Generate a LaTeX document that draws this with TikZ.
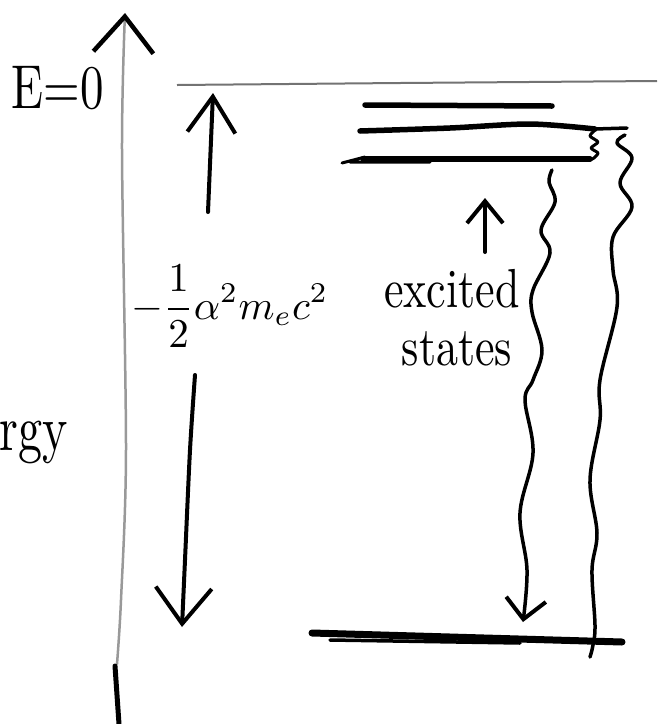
\documentclass[tikz,border=0pt]{standalone}
\usetikzlibrary{arrows.meta}
\tikzset{
  pen/.style={draw=black, line width=4pt, line cap=round, line join=round},
  pencil/.style={draw=black!40, line width=2.5pt, line cap=round, line join=round},
  level/.style={draw=black, line width=5.5pt, line cap=round},
  wiggle/.style={draw=black, line width=3.5pt, line cap=round, line join=round},
  hand/.style={inner sep=0pt, outer sep=0pt},
}
\begin{document}
\begin{tikzpicture}[x=1pt, y=-1pt]
\useasboundingbox (0,0) rectangle (657,724);
\fill[white] (0,0) rectangle (657,724);
\begin{scope}
\clip (0,0) rectangle (657,724);

% energy axis
\coordinate (axbot) at (117,664);
\coordinate (axtop) at (125,13);
\draw[pencil, -{Straight Barb[length=36pt, width=60pt, line width=4.5pt, black]}]
  plot[smooth, tension=0.5] coordinates {(117,664) (121,600) (126,450) (122,150) (125,13)};
\draw[pen, line width=5pt] (115,666) -- (119,724);

% E = 0 line
\coordinate (ezl) at (177,85);
\coordinate (ezr) at (657,81);
\draw[draw=black!55, line width=2pt] (ezl) -- (400,83) -- (ezr);

% texts
\node[hand, xscale=4.7, yscale=6.2] (ezero) at (58,88) {E=0};
\node[hand, anchor=base east, xscale=4.8, yscale=6.5] (energy) at (68,450) {Energy};
\node[hand, scale=4.1] (bind) at (230,306) {$\displaystyle -\frac{1}{2}\alpha^{2}m_{e}c^{2}$};
\node[hand, anchor=base, xscale=4.4, yscale=5.5] (exc) at (452,307) {excited};
\node[hand, anchor=base, xscale=4.4, yscale=5.5] (sts) at (457,365) {states};

% binding energy arrows
\coordinate (upfrom) at (208,212);
\coordinate (upto) at (213,93);
\draw[pen, -{Straight Barb[length=36pt, width=48pt, line width=4pt]}] (upfrom) -- (upto);
\draw[pen, -{Straight Barb[length=36pt, width=56pt, line width=4pt]}]
  plot[smooth, tension=0.5] coordinates {(195,375) (190,450) (185,560) (182,627)};

% excited levels
\coordinate (l1a) at (365,105);
\coordinate (l1b) at (552,106);
\draw[level] (l1a) -- (l1b);
\draw[level] plot[smooth, tension=0.5] coordinates {(360,131) (450,128) (530,124) (595,129)};
\draw[wiggle] (595,129) -- (627,128);
\draw[level] (363,159) -- (590,159);
\draw[wiggle, line width=3pt] (342,163) -- (365,157) (350,162) -- (430,162);
\draw[wiggle, line width=3pt] plot[smooth, tension=0.4] coordinates
  {(595,130) (590,136) (598,142) (591,148) (598,153) (594,158) (590,160)};

% small arrow to excited states
\coordinate (sfrom) at (485,252);
\coordinate (sto) at (485,198);
\draw[pen, -{Straight Barb[length=22pt, width=36pt, line width=4pt]}] (sfrom) -- (sto);

% ground level
\coordinate (g1) at (312,633);
\coordinate (g2) at (622,642);
\draw[level, line width=7pt] (g1) -- (g2);
\draw[wiggle] (330,640) -- (520,643);

% wavy transitions
\draw[wiggle, -{Straight Barb[length=20pt, width=40pt, line width=4pt]}]
  plot[smooth, tension=0.6] coordinates {(552,170) (549,182) (555,202) (541,230) (550,253)
  (533,290) (532,312) (542,350) (533,380) (525,400) (533,453) (520,513) (527,570) (523,622)};
\draw[wiggle]
  plot[smooth, tension=0.6] coordinates {(625,135) (617,143) (632,158) (620,183) (632,207)
  (613,237) (613,270) (617,307) (600,380) (600,420) (590,480) (597,533) (592,570)
  (595,625) (593,645) (590,657)};
\end{scope}
\end{tikzpicture}
\end{document}
